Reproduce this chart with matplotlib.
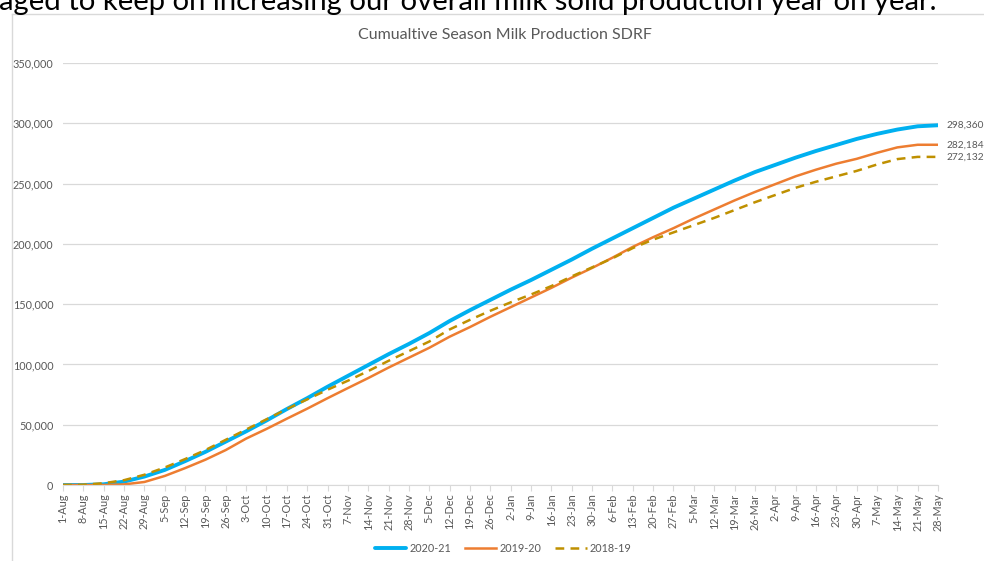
import matplotlib
matplotlib.use('Agg')
import matplotlib.pyplot as plt
from matplotlib.lines import Line2D
from matplotlib.ticker import FuncFormatter
import pandas as pd

# weekly points through the season
weeks = pd.date_range('2019-08-01', periods=44, freq='7D')
week_labels = [f'{d.day}-{d.strftime("%b")}' for d in weeks]

season_names = ['2020-21', '2019-20', '2018-19']
kg_2020_21 = [0, 0, 600, 2800, 7000, 12500, 19800, 27500, 36000, 44500,
              53500, 63000, 72000, 81500, 90500, 99500, 108500, 117000, 126000, 136000,
              145000, 153500, 162000, 170000, 178500, 187000, 196000, 204500, 213000, 221500,
              230000, 237500, 245000, 252500, 259500, 265500, 271500, 277000, 282000, 287000,
              291200, 294800, 297500, 298360]
kg_2019_20 = [0, 0, 0, 500, 2500, 7500, 14000, 21000, 29000, 38500,
              46500, 55000, 63300, 72000, 80400, 88700, 97400, 105600, 113800, 123000,
              131000, 139500, 147500, 155500, 163500, 172000, 180000, 188500, 197500, 205500,
              213000, 221000, 228500, 236000, 243000, 249500, 256000, 261500, 266500, 270500,
              275500, 280000, 282184, 282184]
kg_2018_19 = [0, 200, 1500, 4000, 8500, 14500, 21500, 29000, 37500, 46000,
              54500, 63000, 71000, 79000, 86500, 94500, 103000, 111000, 119000, 129000,
              137000, 144500, 151500, 158000, 165000, 173000, 180500, 188000, 196500, 203500,
              209500, 215500, 221500, 228000, 234500, 240500, 246500, 251500, 256000, 260500,
              265800, 270300, 272132, 272132]

grey = '#595959'
plt.rcParams['font.family'] = ['Lato', 'DejaVu Sans']

fig = plt.figure(figsize=(9.84, 5.61), dpi=100)
ax = fig.add_axes([63 / 984, 76 / 561, 875 / 984, 422 / 561])

# heading text above the chart, cut off at the top; sized to run to x=940
head = fig.text(-0.001, 1 - 10 / 561, 'aged to keep on increasing our overall milk solid production year on year.',
                fontsize=16, color='black', ha='left', va='baseline')
fig.canvas.draw()
w = head.get_window_extent().width
head.set_fontsize(16 * 941 / w)

# chart frame
fig.add_artist(Line2D([12 / 984, 1], [1 - 14 / 561, 1 - 14 / 561], color='#d9d9d9', lw=1))
fig.add_artist(Line2D([12 / 984, 12 / 984], [0, 1 - 14 / 561], color='#d9d9d9', lw=1))

fig.text(505 / 984, 1 - 35 / 561, 'Cumualtive Season Milk Production SDRF',
         fontsize=11.5, color=grey, ha='center', va='center')

ax.plot(weeks, kg_2020_21, color='#00B0F0', lw=2.8, label=season_names[0], solid_capstyle='round')
ax.plot(weeks, kg_2019_20, color='#ED7D31', lw=1.8, label=season_names[1])
ax.plot(weeks, kg_2018_19, color='#BF9000', lw=1.8, ls=(0, (3.5, 2.5)), label=season_names[2])

for vals in (kg_2020_21, kg_2019_20, kg_2018_19):
    ax.annotate(f'{vals[-1]:,}', xy=(weeks[-1], vals[-1]), xytext=(6, 0),
                textcoords='offset points', fontsize=7.3, color=grey, va='center',
                annotation_clip=False)

ax.set_xlim(weeks[0], weeks[-1])
ax.set_ylim(0, 350000)
ax.set_yticks(range(0, 350001, 50000))
ax.yaxis.set_major_formatter(FuncFormatter(lambda v, p: f'{int(v):,}'))
ax.set_xticks(weeks)
ax.set_xticklabels(week_labels, rotation=90)

ax.grid(axis='y', color='#d9d9d9', lw=0.9)
ax.set_axisbelow(True)
for side in ('top', 'right', 'left'):
    ax.spines[side].set_visible(False)
ax.spines['bottom'].set_color('#d9d9d9')
ax.tick_params(axis='y', length=0, pad=7, labelsize=7.8, labelcolor=grey)
ax.tick_params(axis='x', length=4, color='#d9d9d9', pad=2, labelsize=7.8, labelcolor=grey)

ax.legend(loc='center', bbox_to_anchor=(503 / 984, 13 / 561), bbox_transform=fig.transFigure,
          ncol=3, frameon=False, fontsize=7.8, labelcolor=grey, handlelength=2.9,
          columnspacing=1.3, handletextpad=0.25)

fig.savefig('out.png', dpi=100)
